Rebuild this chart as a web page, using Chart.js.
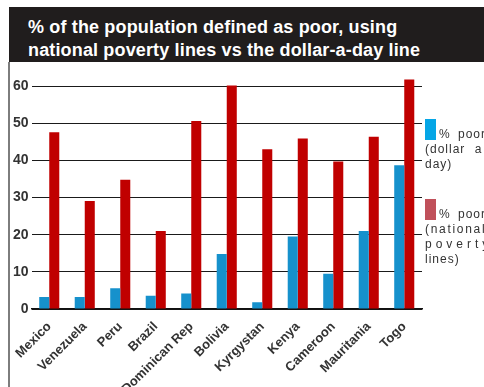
<!DOCTYPE html>
<html>
<head>
<meta charset="utf-8">
<script src="https://cdn.jsdelivr.net/npm/chart.js@4"></script>
<style>
  html, body { margin: 0; padding: 0; }
  body { width: 484px; height: 387px; overflow: hidden; position: relative; background: #fff;
         font-family: "Liberation Sans", Arial, sans-serif; }
  #title { position: absolute; left: 9px; top: 7px; width: 475px; height: 55px; box-sizing: border-box;
           padding: 9px 0 0 19px; background: #201d1d; color: #fff; font-weight: bold;
           font-size: 18px; line-height: 23px; letter-spacing: 0.15px; white-space: nowrap; }
  #frame { position: absolute; left: 8px; top: 62px; width: 2px; height: 325px; background: #7d7d7d; }
  #wrap { position: absolute; left: 10px; top: 62px; width: 474px; height: 325px; }
  .key { position: absolute; left: 425px; width: 80px; font-size: 12px; line-height: 15px;
         color: #333; letter-spacing: 1px; white-space: nowrap; }
  .key .sw { position: absolute; left: 0; top: 0; width: 11px; height: 21px; }
  .key .txt { position: absolute; left: 0; top: 8px; }
  .key .txt div:first-child { margin-left: 14px; }
</style>
</head>
<body>
<div id="title">% of the population defined as poor, using<br>national poverty lines vs the dollar-a-day line</div>
<div id="frame"></div>
<div id="wrap"><canvas id="chart"></canvas></div>
<div id="keys"></div>
<script>
// countries and poverty rates (%)
const categories = ['Mexico', 'Venezuela', 'Peru', 'Brazil', 'Dominican Rep', 'Bolivia',
                    'Kyrgystan', 'Kenya', 'Cameroon', 'Mauritania', 'Togo'];
const dollarADay = [3.2, 3.2, 5.6, 3.6, 4.2, 14.8, 1.8, 19.5, 9.5, 21, 38.7];
const nationalLines = [47.6, 29.1, 34.8, 21, 50.6, 60.2, 43, 45.9, 39.7, 46.4, 61.8];
const seriesNames = ['% poor (dollar a day)', '% poor (national poverty lines)'];
const yTicks = [0, 10, 20, 30, 40, 50, 60];

const barColors = ['#1691cc', '#c00000'];
const keyColors = ['#05a6e6', '#c0505a'];

// legend text is wrapped by hand, each line with its own spacing
const keyLines = [
  [['% poor', 1, 3], ['(dollar a', 1, 5], ['day)', 1, 0]],
  [['% poor', 1, 3], ['(national', 1.7, 0], ['poverty', 4, 0], ['lines)', 1, 0]]
];
const keyTops = [119, 199];

const keys = document.getElementById('keys');
seriesNames.forEach(function (name, i) {
  const k = document.createElement('div');
  k.className = 'key';
  k.style.top = keyTops[i] + 'px';
  k.title = name;
  let html = '<div class="sw" style="background:' + keyColors[i] + '"></div><div class="txt">';
  keyLines[i].forEach(function (l) {
    html += '<div style="letter-spacing:' + l[1] + 'px;word-spacing:' + l[2] + 'px">' + l[0] + '</div>';
  });
  k.innerHTML = html + '</div>';
  keys.appendChild(k);
});

const data = {
  labels: categories,
  datasets: [
    { label: seriesNames[0], data: dollarADay, backgroundColor: barColors[0] },
    { label: seriesNames[1], data: nationalLines, backgroundColor: barColors[1] }
  ]
};

const config = {
  type: 'bar',
  data: data,
  options: {
    responsive: true,
    maintainAspectRatio: false,
    animation: false,
    layout: { padding: { top: 13, right: 62, left: 0, bottom: 0 } },
    datasets: { bar: { barPercentage: 1, categoryPercentage: 0.565 } },
    plugins: { legend: { display: false }, tooltip: { enabled: false } },
    scales: {
      x: {
        grid: { display: false },
        border: { display: true, color: '#111', width: 1.5 },
        ticks: {
          maxRotation: 45, minRotation: 45, padding: 2, autoSkip: false,
          color: '#333', font: { family: '"Liberation Sans", Arial', size: 13, weight: 'bold' }
        },
        afterFit: function (scale) { scale.height = 78; }
      },
      y: {
        min: 0, max: 63,
        afterBuildTicks: function (axis) { axis.ticks = yTicks.map(v => ({ value: v })); },
        grid: { color: '#1a1a1a', lineWidth: 1, drawTicks: false },
        border: { display: false },
        ticks: {
          padding: 3, color: '#333',
          font: { family: '"Liberation Sans", Arial', size: 14, weight: 'bold' }
        },
        afterFit: function (scale) { scale.width = 21.5; }
      }
    }
  }
};

const myChart = new Chart(document.getElementById('chart'), config);
</script>
</body>
</html>
